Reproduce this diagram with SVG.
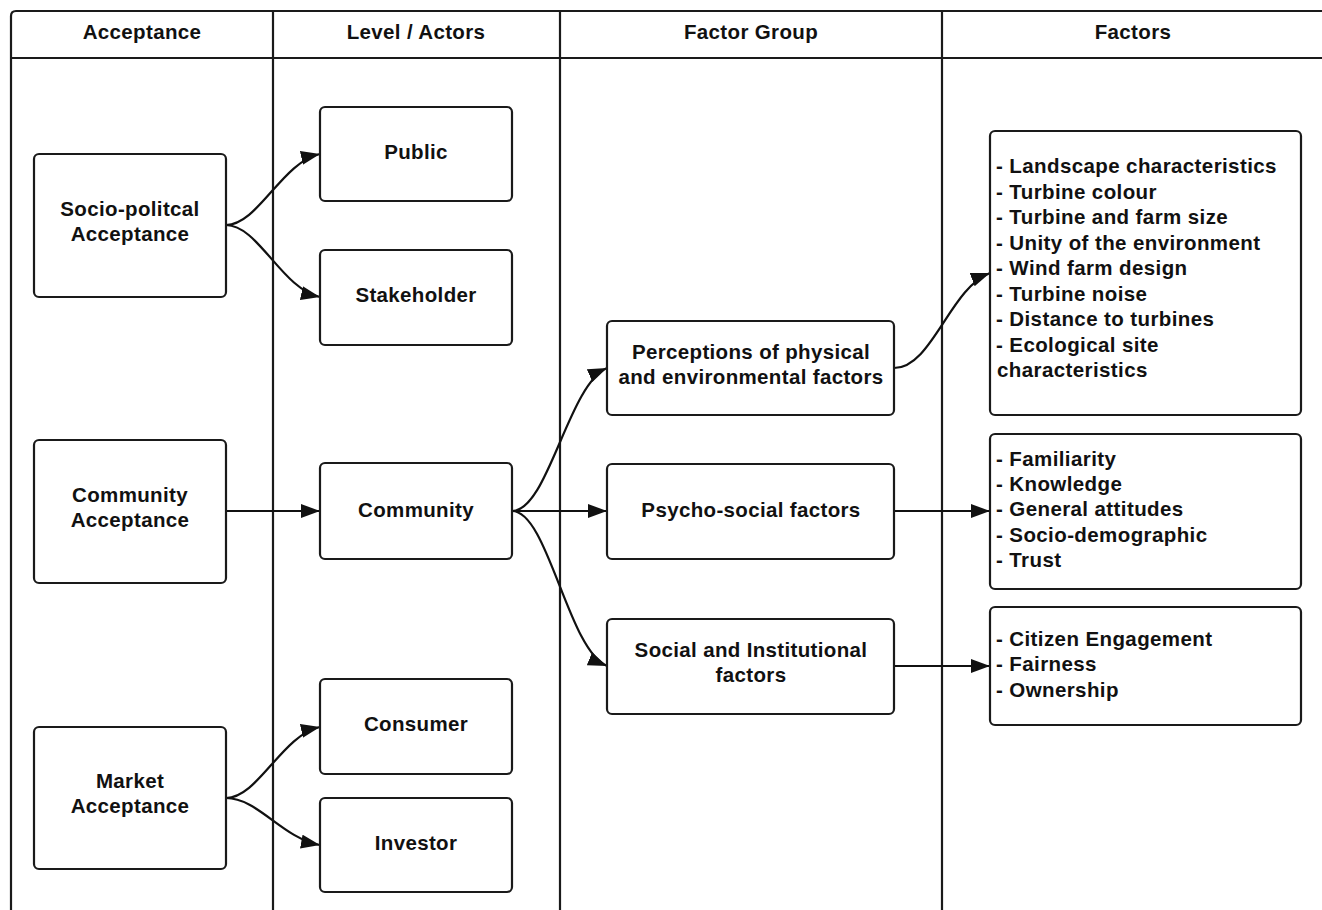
<svg xmlns="http://www.w3.org/2000/svg" width="1322" height="910" viewBox="0 0 1322 910">
<defs>
<style>
.frame{fill:none;stroke:#1a1a1a;stroke-width:2.2}
.box{fill:#fff;stroke:#1a1a1a;stroke-width:2.2}
.t{font-family:"Liberation Sans",Arial,sans-serif;font-weight:bold;font-size:20.5px;letter-spacing:0.35px;fill:#111;text-anchor:middle}
.l{font-family:"Liberation Sans",Arial,sans-serif;font-weight:bold;font-size:20.5px;letter-spacing:0.4px;fill:#111}
.c{fill:none;stroke:#111;stroke-width:2.2}
</style>
<marker id="a" markerWidth="20" markerHeight="14" refX="19" refY="7" orient="auto" markerUnits="userSpaceOnUse">
<path d="M0,0 L19,7 L0,14 z" fill="#111"/>
</marker>
</defs>
<rect width="1322" height="910" fill="#fff"/>
<g id="lanes">
<path class="frame" d="M11,915 L11,16 Q11,11 16,11 L1330,11"/>
<line class="frame" x1="11" y1="58" x2="1330" y2="58"/>
<line class="frame" x1="273" y1="11" x2="273" y2="915"/>
<line class="frame" x1="560" y1="11" x2="560" y2="915"/>
<line class="frame" x1="942" y1="11" x2="942" y2="915"/>
<text class="t" x="142" y="39">Acceptance</text>
<text class="t" x="416" y="39">Level / Actors</text>
<text class="t" x="751" y="39">Factor Group</text>
<text class="t" x="1133" y="39">Factors</text>
</g>
<g id="connectors">
<path class="c" marker-end="url(#a)" d="M226,225 C258,225 282,162 320,154"/>
<path class="c" marker-end="url(#a)" d="M226,225 C258,225 282,289 320,297"/>
<path class="c" marker-end="url(#a)" d="M226,511 L320,511"/>
<path class="c" marker-end="url(#a)" d="M226,798 C258,798 282,735 320,727"/>
<path class="c" marker-end="url(#a)" d="M226,798 C258,798 282,838 320,845"/>
<path class="c" marker-end="url(#a)" d="M512,511 C548,511 568,385 607,368"/>
<path class="c" marker-end="url(#a)" d="M512,511 L607,511"/>
<path class="c" marker-end="url(#a)" d="M512,511 C548,511 568,650 607,666"/>
<path class="c" marker-end="url(#a)" d="M894,368 C932,368 950,288 990,273"/>
<path class="c" marker-end="url(#a)" d="M894,511 L990,511"/>
<path class="c" marker-end="url(#a)" d="M894,666 L990,666"/>
</g>
<g id="n-socio"><rect class="box" x="34" y="154" width="192" height="143" rx="5"/>
<text class="t" x="130" y="216">Socio-politcal</text><text class="t" x="130" y="241">Acceptance</text></g>
<g id="n-commacc"><rect class="box" x="34" y="440" width="192" height="143" rx="5"/>
<text class="t" x="130" y="502">Community</text><text class="t" x="130" y="527">Acceptance</text></g>
<g id="n-market"><rect class="box" x="34" y="727" width="192" height="142" rx="5"/>
<text class="t" x="130" y="788">Market</text><text class="t" x="130" y="813">Acceptance</text></g>
<g id="n-public"><rect class="box" x="320" y="107" width="192" height="94" rx="5"/>
<text class="t" x="416" y="159">Public</text></g>
<g id="n-stake"><rect class="box" x="320" y="250" width="192" height="95" rx="5"/>
<text class="t" x="416" y="302">Stakeholder</text></g>
<g id="n-community"><rect class="box" x="320" y="463" width="192" height="96" rx="5"/>
<text class="t" x="416" y="517">Community</text></g>
<g id="n-consumer"><rect class="box" x="320" y="679" width="192" height="95" rx="5"/>
<text class="t" x="416" y="731">Consumer</text></g>
<g id="n-investor"><rect class="box" x="320" y="798" width="192" height="94" rx="5"/>
<text class="t" x="416" y="850">Investor</text></g>
<g id="n-percep"><rect class="box" x="607" y="321" width="287" height="94" rx="5"/>
<text class="t" x="751" y="359">Perceptions of physical</text><text class="t" x="751" y="384">and environmental factors</text></g>
<g id="n-psycho"><rect class="box" x="607" y="464" width="287" height="95" rx="5"/>
<text class="t" x="751" y="517">Psycho-social factors</text></g>
<g id="n-social"><rect class="box" x="607" y="619" width="287" height="95" rx="5"/>
<text class="t" x="751" y="657">Social and Institutional</text><text class="t" x="751" y="682">factors</text></g>
<g id="n-f1"><rect class="box" x="990" y="131" width="311" height="284" rx="5"/>
<text class="l" x="996" y="173">- Landscape characteristics</text>
<text class="l" x="996" y="199">- Turbine colour</text>
<text class="l" x="996" y="224">- Turbine and farm size</text>
<text class="l" x="996" y="250">- Unity of the environment</text>
<text class="l" x="996" y="275">- Wind farm design</text>
<text class="l" x="996" y="301">- Turbine noise</text>
<text class="l" x="996" y="326">- Distance to turbines</text>
<text class="l" x="996" y="352">- Ecological site</text>
<text class="l" x="997" y="377">characteristics</text></g>
<g id="n-f2"><rect class="box" x="990" y="434" width="311" height="155" rx="5"/>
<text class="l" x="996" y="466">- Familiarity</text>
<text class="l" x="996" y="491">- Knowledge</text>
<text class="l" x="996" y="516">- General attitudes</text>
<text class="l" x="996" y="542">- Socio-demographic</text>
<text class="l" x="996" y="567">- Trust</text></g>
<g id="n-f3"><rect class="box" x="990" y="607" width="311" height="118" rx="5"/>
<text class="l" x="996" y="646">- Citizen Engagement</text>
<text class="l" x="996" y="671">- Fairness</text>
<text class="l" x="996" y="697">- Ownership</text></g>
</svg>
